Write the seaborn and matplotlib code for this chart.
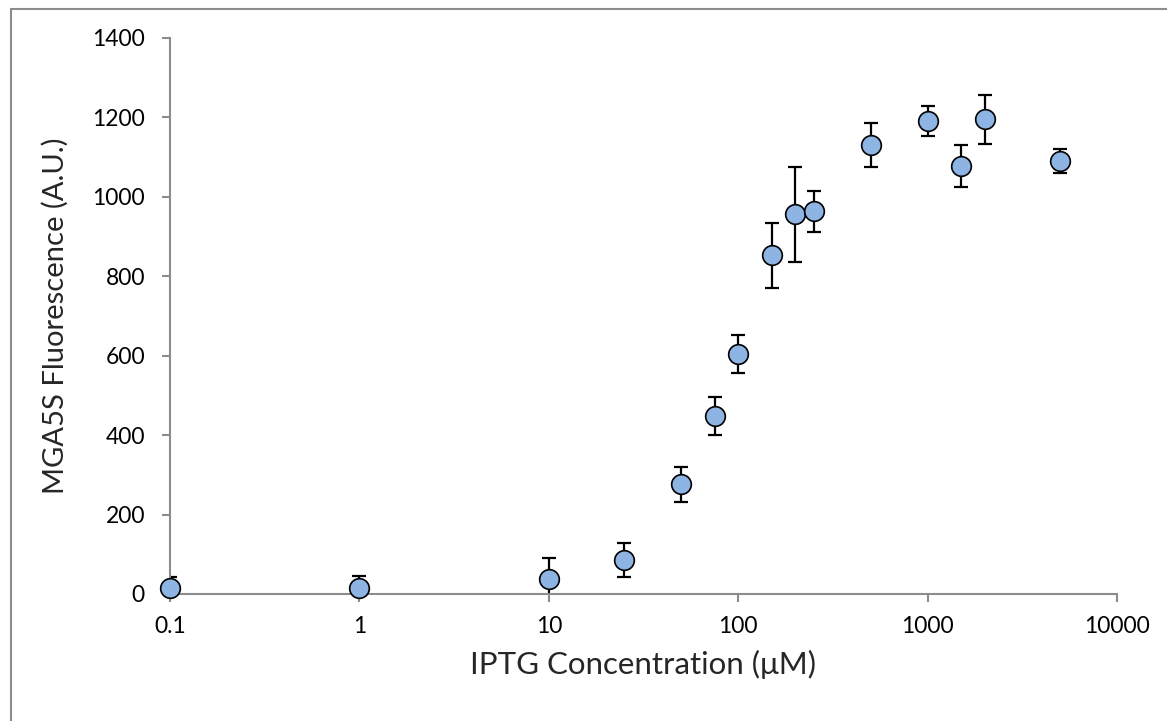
"""IPTG dose response"""

import numpy as np
import pandas as pd
import matplotlib.pyplot as plt
import seaborn as sns
from matplotlib.lines import Line2D

# data
iptg = [0.1, 1, 10, 25, 50, 75, 100, 150, 200, 250, 500, 1000, 1500, 2000, 5000]
fluor = [15, 15, 38, 86, 276, 448, 604, 853, 956, 964, 1131, 1190, 1077, 1195, 1091]
err = [28, 30, 53, 42, 45, 47, 47, 82, 120, 52, 55, 38, 53, 62, 30]

x_ticks = [0.1, 1, 10, 100, 1000, 10000]
x_tick_labels = ['0.1', '1', '10', '100', '1000', '10000']
y_ticks = [0, 200, 400, 600, 800, 1000, 1200, 1400]

df = pd.DataFrame({'iptg': iptg, 'fluor': fluor, 'err': err})

sns.set_style('white')
plt.rcParams['font.family'] = ['Lato', 'DejaVu Sans']

fig = plt.figure(figsize=(11.67, 7.21), dpi=100)
ax = fig.add_axes([170 / 1167, 1 - 594 / 721, (1117 - 170) / 1167, (594 - 38) / 721])

axis_grey = '#8c8c8c'

# error bars under the markers
ax.errorbar(df['iptg'], df['fluor'], yerr=df['err'], fmt='none',
            ecolor='black', elinewidth=1.6, capsize=5, capthick=1.6, zorder=2)
sns.scatterplot(data=df, x='iptg', y='fluor', ax=ax, s=200, color='#8db4e2',
                edgecolor='black', linewidth=1.2, zorder=3, legend=False,
                clip_on=False)

ax.set_xscale('log')
ax.set_xlim(0.1, 10000)
ax.set_ylim(0, 1400)
ax.set_xticks(x_ticks)
ax.set_xticklabels(x_tick_labels)
ax.set_yticks(y_ticks)
ax.minorticks_off()

for side in ['top', 'right']:
    ax.spines[side].set_visible(False)
for side in ['left', 'bottom']:
    ax.spines[side].set_color(axis_grey)
    ax.spines[side].set_linewidth(1.5)

ax.tick_params(axis='both', which='major', direction='out', length=6, width=1.5,
               color=axis_grey, labelsize=16.5, labelcolor='black', pad=10,
               left=True, bottom=True)
ax.tick_params(axis='y', pad=12)

ax.set_xlabel('IPTG Concentration (\u03bcM)', fontsize=22.5, labelpad=9)
ax.set_ylabel('MGA5S Fluorescence (A.U.)', fontsize=21, labelpad=17)

# chart area border, only left and top show in the crop
fig.add_artist(Line2D([11 / 1167, 11 / 1167], [0, 1 - 9 / 721],
                      transform=fig.transFigure, color=axis_grey, lw=1.5))
fig.add_artist(Line2D([11 / 1167, 1], [1 - 9 / 721, 1 - 9 / 721],
                      transform=fig.transFigure, color=axis_grey, lw=1.5))

fig.savefig('out.png', dpi=100)
